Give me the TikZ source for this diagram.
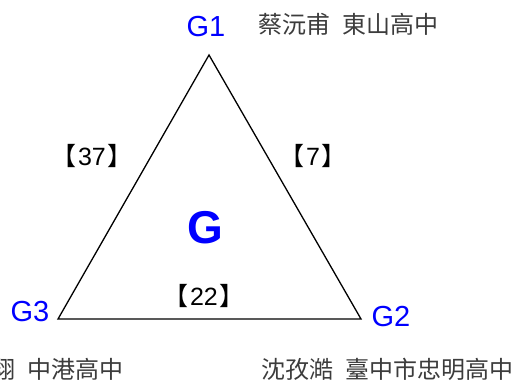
\documentclass[tikz,border=0pt]{standalone}
\usepackage{fontspec}
\setmainfont{Liberation Sans}
\newfontfamily\cjk{Noto Sans CJK TC}
\definecolor{gblue}{RGB}{0,0,255}
\definecolor{tgray}{RGB}{60,60,60}
\newcommand{\lbrk}{{\cjk 【}\hspace{2pt}}
\newcommand{\rbrk}{\hspace{2pt}{\cjk 】}}
\newcommand{\wsp}{\hspace{12pt}}
\begin{document}
\begin{tikzpicture}[x=1pt,y=-1pt,
  vlabel/.style={inner sep=0pt,text=gblue,font=\fontsize{29}{29}\selectfont},
  elabel/.style={inner sep=0pt,font=\fontsize{25}{25}\selectfont},
  personlabel/.style={inner sep=0pt,text=tgray,font=\cjk\fontsize{24}{24}\selectfont},
  tri/.style={draw=black,line width=1.3pt,line join=miter}]
\useasboundingbox (0,0) rectangle (520,383);
\coordinate (v1) at (209,55);
\coordinate (v2) at (361,319);
\coordinate (v3) at (58,319);
\draw[tri] (v1) -- (v2) -- (v3) -- cycle;
\node[vlabel] (g1) at (206,27) {G1};
\node[vlabel] (g2) at (391,317) {G2};
\node[vlabel] (g3) at (30,312) {G3};
\node[inner sep=0pt,text=gblue,font=\bfseries\fontsize{46}{46}\selectfont] (g) at (205,228) {G};
\node[elabel] (e13) at (92,156) {\lbrk 37\rbrk};
\node[elabel] (e12) at (313,156) {\lbrk 7\rbrk};
\node[elabel] (e23) at (204,296) {\lbrk 22\rbrk};
\node[personlabel,anchor=west] (n1) at (258,24) {蔡沅甫\wsp 東山高中};
\node[personlabel,anchor=west] (n2) at (261,369) {沈孜澔\wsp 臺中市忠明高中};
\node[personlabel,anchor=east] (n3) at (124,369) {翔\wsp 中港高中};
\end{tikzpicture}
\end{document}
